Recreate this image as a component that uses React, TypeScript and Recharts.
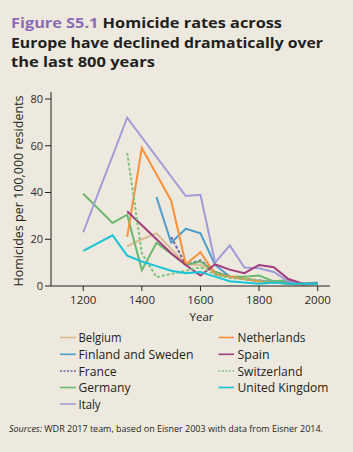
import React from "react";
import { LineChart, Line, XAxis, YAxis } from "recharts";

type Pt = { year: number; value: number };
const mk = (rows: number[][]): Pt[] => rows.map(([year, value]) => ({ year, value }));

const yearTicks = [1200, 1400, 1600, 1800, 2000];
const valueTicks = [0, 20, 40, 60, 80];

const belgium = mk([[1350, 17], [1400, 20], [1450, 22.5], [1550, 9.3], [1600, 9], [1650, 6], [1700, 4], [1750, 3], [1800, 2], [1850, 1.5], [1900, 1.5], [1950, 1], [2000, 1]]);
const finlandSweden = mk([[1450, 38], [1500, 18.5], [1550, 24.5], [1600, 22.5], [1650, 9], [1700, 4], [1750, 3], [1800, 2], [1850, 2], [1900, 1.5], [1950, 1], [2000, 1.5]]);
const france = mk([[1500, 21], [1550, 9], [1600, 11], [1650, 6], [1700, 4], [1750, 3], [1800, 2.5], [1850, 1.5], [1900, 1.5], [1950, 1], [2000, 1]]);
const germany = mk([[1200, 39.5], [1300, 27], [1350, 30.5], [1400, 6.7], [1450, 18.5], [1550, 9], [1600, 10.5], [1650, 6], [1700, 4], [1750, 4], [1800, 4.5], [1850, 2], [1900, 2.5], [1950, 1], [2000, 1]]);
const italy = mk([[1200, 23], [1350, 72], [1550, 38.5], [1600, 39], [1650, 10], [1700, 17.4], [1750, 7.9], [1800, 7.6], [1850, 6], [1900, 2], [1950, 1], [2000, 1]]);
const netherlands = mk([[1350, 21], [1400, 59], [1500, 36.5], [1550, 9.3], [1600, 14.5], [1650, 5], [1700, 4], [1750, 3], [1800, 2], [1850, 1.5], [1900, 1], [1950, 0.5], [2000, 1]]);
const spain = mk([[1350, 32], [1400, 26], [1450, 20], [1500, 14], [1550, 9], [1600, 4.5], [1650, 9.3], [1700, 7], [1750, 5.5], [1800, 9], [1850, 8], [1900, 3], [1950, 1], [2000, 1]]);
const switzerland = mk([[1350, 57], [1400, 14], [1450, 3.8], [1550, 6.5], [1600, 8], [1650, 5], [1700, 3.5], [1750, 3], [1800, 2.5], [1850, 1.5], [1900, 1], [1950, 1], [2000, 1]]);
const unitedKingdom = mk([[1200, 15], [1300, 21.7], [1350, 13], [1400, 10.5], [1450, 8.5], [1500, 6.5], [1550, 5.5], [1600, 6], [1650, 4], [1700, 2], [1750, 1.5], [1800, 1], [1850, 1.5], [1900, 1], [1950, 1], [2000, 1]]);

const series = [
  { name: "Belgium", data: belgium, color: "#dbbb94", dash: undefined as string | undefined },
  { name: "Finland and Sweden", data: finlandSweden, color: "#4f9dca", dash: undefined },
  { name: "France", data: france, color: "#6f61a3", dash: "3 2" },
  { name: "Germany", data: germany, color: "#6cb86c", dash: undefined },
  { name: "Italy", data: italy, color: "#a09bd8", dash: undefined },
  { name: "Netherlands", data: netherlands, color: "#f8913a", dash: undefined },
  { name: "Spain", data: spain, color: "#a23c7e", dash: undefined },
  { name: "Switzerland", data: switzerland, color: "#80c27b", dash: "3 2" },
  { name: "United Kingdom", data: unitedKingdom, color: "#17c4d7", dash: undefined },
];

const legendLeft = [
  { name: "Belgium", w: 43 },
  { name: "Finland and Sweden", w: 115 },
  { name: "France", w: 38 },
  { name: "Germany", w: 52 },
  { name: "Italy", w: 22 },
];
const legendRight = [
  { name: "Netherlands", w: 68 },
  { name: "Spain", w: 32 },
  { name: "Switzerland", w: 65 },
  { name: "United Kingdom", w: 91 },
];

const BG = "#ede9de";
const INK = "#231f20";
const FONT = "'Open Sans', 'DejaVu Sans', sans-serif";

export default function App() {
  const byName: Record<string, (typeof series)[number]> = {};
  series.forEach((s) => (byName[s.name] = s));
  const legendRows = [337.5, 354.3, 371, 387.5, 404];

  return (
    <div style={{ position: "absolute", left: 0, top: 0, width: 353, height: 452, background: BG, overflow: "hidden" }}>
      <div style={{ position: "absolute", left: 0, top: 0 }}>
        <LineChart
          width={353}
          height={452}
          margin={{ top: 92, right: 23, bottom: 136, left: 11 }}
        >
          <XAxis
            dataKey="year"
            type="number"
            domain={[1090, 2042]}
            ticks={yearTicks}
            allowDuplicatedCategory={false}
            height={30}
            tickSize={5}
            tickMargin={5}
            stroke={INK}
            tick={{ fill: "#2b2b2b", fontSize: 11.5, fontFamily: FONT }}
          />
          <YAxis
            type="number"
            domain={[0, 83]}
            ticks={valueTicks}
            width={40}
            tickSize={6}
            tickMargin={2}
            stroke={INK}
            tick={{ fill: "#2b2b2b", fontSize: 11, fontFamily: FONT }}
          />
          {series.map((s) => (
            <Line
              key={s.name}
              data={s.data}
              dataKey="value"
              name={s.name}
              type="linear"
              stroke={s.color}
              strokeWidth={2}
              strokeDasharray={s.dash}
              dot={false}
              activeDot={false}
              isAnimationActive={false}
            />
          ))}
        </LineChart>
      </div>
      <svg width={353} height={452} style={{ position: "absolute", left: 0, top: 0, pointerEvents: "none" }}>
        <g fontFamily={FONT} fontWeight={700} fontSize={14.3} fill={INK}>
          <text x={11} y={28} textLength={271} lengthAdjust="spacingAndGlyphs">
            <tspan fill="#8c6db5">Figure S5.1</tspan>
            <tspan> Homicide rates across</tspan>
          </text>
          <text x={11} y={47.5} textLength={312} lengthAdjust="spacingAndGlyphs">Europe have declined dramatically over</text>
          <text x={11} y={67} textLength={144} lengthAdjust="spacingAndGlyphs">the last 800 years</text>
        </g>
        <text
          transform="translate(18,191) rotate(-90)"
          textAnchor="middle"
          dominantBaseline="central"
          fontFamily={FONT}
          fontSize={12}
          fill={INK}
          textLength={191}
          lengthAdjust="spacingAndGlyphs"
        >
          Homicides per 100,000 residents
        </text>
        <text x={201.5} y={321} textAnchor="middle" fontFamily={FONT} fontSize={11.5} fill={INK}>
          Year
        </text>
        <g fontFamily={FONT} fontSize={12.5} fill={INK}>
          {legendLeft.map((it, i) => {
            const s = byName[it.name];
            const y = legendRows[i];
            return (
              <g key={it.name}>
                <line x1={60} x2={76} y1={y} y2={y} stroke={s.color} strokeWidth={1.6} strokeDasharray={s.dash ? "2 1.5" : undefined} />
                <text x={78.5} y={y} dominantBaseline="central" textLength={it.w} lengthAdjust="spacingAndGlyphs">{it.name}</text>
              </g>
            );
          })}
          {legendRight.map((it, i) => {
            const s = byName[it.name];
            const y = legendRows[i];
            return (
              <g key={it.name}>
                <line x1={218.5} x2={234} y1={y} y2={y} stroke={s.color} strokeWidth={1.6} strokeDasharray={s.dash ? "2 1.5" : undefined} />
                <text x={237.5} y={y} dominantBaseline="central" textLength={it.w} lengthAdjust="spacingAndGlyphs">{it.name}</text>
              </g>
            );
          })}
        </g>
        <text x={9} y={432} fontFamily={FONT} fontSize={9.5} fill={INK} textLength={314} lengthAdjust="spacingAndGlyphs">
          <tspan fontStyle="italic">Sources:</tspan>
          <tspan> WDR 2017 team, based on Eisner 2003 with data from Eisner 2014.</tspan>
        </text>
      </svg>
    </div>
  );
}
